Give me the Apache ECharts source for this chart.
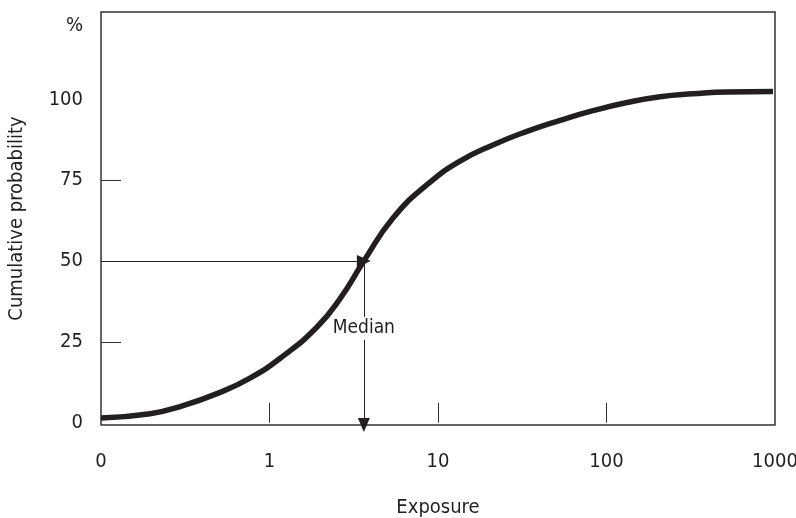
<!DOCTYPE html>
<html>
<head>
<meta charset="utf-8">
<script src="https://cdn.jsdelivr.net/npm/echarts@6/dist/echarts.min.js"></script>
<style>html,body{margin:0;padding:0;background:#fff}#c{width:796px;height:518px}</style>
</head>
<body>
<div id="c"></div>
<script>
// X axis positions (0..4) labelled on a log-like scale
const xTickValues = [0, 1, 2, 3, 4];
const xTickLabels = ['0', '1', '10', '100', '1000'];
const yTickValues = [0, 25, 50, 75, 100];
// cumulative probability curve: [x position, percent]
const curveX = [0, 0.291, 0.487, 0.688, 0.884, 1.080, 1.282, 1.418, 1.56, 1.733, 1.935, 2.131, 2.326, 2.528, 2.724, 2.920, 3.122, 3.318, 3.513, 3.715, 3.988];
const curveY = [1.5, 2.8, 5.3, 9.0, 13.8, 20.6, 29.6, 38.3, 50, 63.3, 73.6, 80.9, 85.9, 90.1, 93.5, 96.5, 99.0, 100.8, 101.7, 102.3, 102.4];
const medianX = 1.56;
const medianY = 50;
const medianLabelY = 29.2;
const yMin = -0.7, yMax = 127;

const FONT = '"Liberation Sans Narrow", "DejaVu Sans Condensed", "Arial Narrow", sans-serif';
const INK = '#231f20';

const chart = echarts.init(document.getElementById('c'), null, {renderer: 'canvas'});
chart.setOption({
  animation: false,
  backgroundColor: '#fff',
  grid: {left: 101, top: 12, right: 21, bottom: 93, show: true, borderColor: '#333', borderWidth: 1.5,
         containLabel: false, outerBoundsMode: 'none'},
  graphic: [{
    type: 'text', right: 796 - 83, top: 16,
    style: {text: '%', font: '20px ' + FONT, fill: INK, textAlign: 'right'}
  }],
  xAxis: {
    type: 'value', min: 0, max: 4,
    name: 'Exposure', nameLocation: 'middle', nameGap: 73,
    nameTextStyle: {fontFamily: FONT, fontSize: 20, color: INK},
    axisLine: {show: false},
    axisTick: {show: true, inside: true, length: 20, customValues: [1, 2, 3], lineStyle: {color: '#333', width: 1}},
    axisLabel: {
      customValues: xTickValues, margin: 27,
      fontFamily: FONT, fontSize: 20, color: INK,
      formatter: v => xTickLabels[xTickValues.indexOf(Math.round(v))]
    },
    splitLine: {show: false}
  },
  yAxis: {
    type: 'value', min: yMin, max: yMax,
    name: 'Cumulative probability', nameLocation: 'middle', nameGap: 74,
    nameTextStyle: {fontFamily: FONT, fontSize: 20, color: INK},
    axisLine: {show: false},
    axisTick: {show: true, inside: true, length: 20, customValues: [25, 50, 75], lineStyle: {color: '#333', width: 1}},
    axisLabel: {
      customValues: yTickValues, margin: 18,
      fontFamily: FONT, fontSize: 20, color: INK
    },
    splitLine: {show: false}
  },
  series: [{
    type: 'line',
    data: curveX.map((x, i) => [x, curveY[i]]),
    smooth: 0.5,
    symbol: 'none',
    lineStyle: {color: INK, width: 5.5, cap: 'butt'},
    z: 3,
    markLine: {
      silent: true,
      symbol: ['none', 'triangle'],
      symbolSize: [12, 14],
      lineStyle: {color: INK, width: 1, type: 'solid'},
      label: {show: false},
      data: [
        [{coord: [0, medianY]}, {coord: [medianX, medianY]}],
        [{coord: [medianX, medianY]}, {coord: [medianX, yMin]}]
      ]
    },
    markPoint: {
      silent: true,
      symbol: 'rect', symbolSize: 1,
      itemStyle: {color: 'rgba(0,0,0,0)'},
      label: {
        show: true, position: 'inside', formatter: 'Median',
        fontFamily: FONT, fontSize: 19, color: INK,
        backgroundColor: '#fff', padding: [2, 1]
      },
      data: [{coord: [medianX, medianLabelY]}]
    }
  }]
});
</script>
</body>
</html>
